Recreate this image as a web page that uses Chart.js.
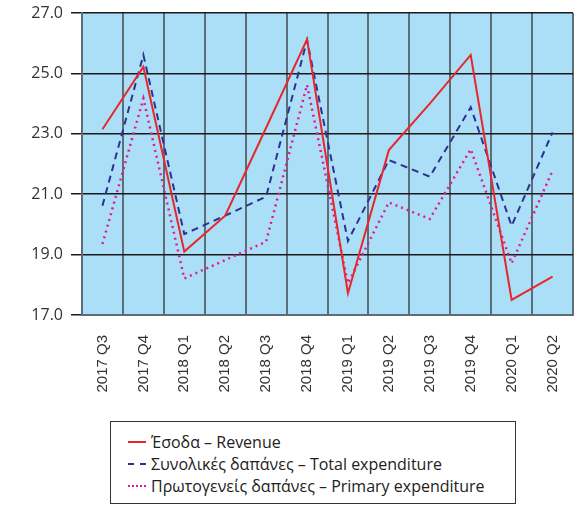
<!DOCTYPE html>
<html>
<head>
<meta charset="utf-8">
<script src="https://cdn.jsdelivr.net/npm/chart.js@4/dist/chart.umd.min.js"></script>
<style>
  body {
    margin: 0;
    background: #ffffff;
    font-family: 'Open Sans', sans-serif;
  }
  .chart-wrapper {
    position: relative;
    width: 582px;
    height: 420px;
  }
  .legend {
    position: absolute;
    left: 110px;
    top: 421px;
    width: 406px;
    height: 83px;
    box-sizing: border-box;
    border: 1px solid #333;
    padding-top: 9px;
    font-size: 16px;
    color: #222;
  }
  .legend__row {
    display: flex;
    align-items: center;
    height: 22px;
    padding-left: 17px;
  }
  .legend__line {
    width: 18px;
    margin-right: 5px;
    border-top-width: 2px;
  }
</style>
</head>
<body>
<div class="chart-wrapper">
  <canvas id="chart" width="582" height="420"></canvas>
</div>
<div class="legend" id="legend"></div>
<script>
const quarters = [
  '2017 Q3', '2017 Q4', '2018 Q1', '2018 Q2', '2018 Q3', '2018 Q4',
  '2019 Q1', '2019 Q2', '2019 Q3', '2019 Q4', '2020 Q1', '2020 Q2',
];
const revenue = [23.15, 25.22, 19.1, 20.29, 23.2, 26.13, 17.72, 22.46, 24.0, 25.61, 17.5, 18.27];
const totalExpenditure = [20.62, 25.61, 19.68, 20.29, 20.92, 26.1, 19.45, 22.13, 21.58, 23.88, 19.95, 23.05];
const primaryExpenditure = [19.35, 24.17, 18.21, 18.82, 19.43, 24.62, 18.05, 20.73, 20.18, 22.49, 18.71, 21.78];
const yTicks = [17, 19, 21, 23, 25, 27];

const seriesLabels = [
  'Έσοδα – Revenue',
  'Συνολικές δαπάνες – Total expenditure',
  'Πρωτογενείς δαπάνες – Primary expenditure',
];

const plotBackground = {
  id: 'plotBackground',
  beforeDraw(chart) {
    const { ctx, chartArea } = chart;
    ctx.save();
    ctx.fillStyle = '#abdff8';
    ctx.fillRect(chartArea.left, chartArea.top, chartArea.width, chartArea.height);
    ctx.restore();
  },
};

function createChart() {
  const canvas = document.getElementById('chart');

  const data = {
    labels: quarters,
    datasets: [
      {
        label: seriesLabels[0],
        data: revenue,
        borderColor: '#e8262c',
        borderWidth: 2,
        pointRadius: 0,
        tension: 0,
      },
      {
        label: seriesLabels[1],
        data: totalExpenditure,
        borderColor: '#2e3192',
        borderWidth: 2,
        borderDash: [7, 5],
        pointRadius: 0,
        tension: 0,
      },
      {
        label: seriesLabels[2],
        data: primaryExpenditure,
        borderColor: '#e6198c',
        borderWidth: 2.5,
        borderDash: [2, 4],
        pointRadius: 0,
        tension: 0,
      },
    ],
  };

  const config = {
    type: 'line',
    data: data,
    plugins: [plotBackground],
    options: {
      responsive: false,
      animation: false,
      layout: {
        padding: { top: 13, right: 9, bottom: 0, left: 0 },
      },
      plugins: {
        legend: { display: false },
        tooltip: { enabled: false },
      },
      scales: {
        x: {
          offset: true,
          grid: {
            offset: true,
            color: '#5c6e78',
            lineWidth: 2,
            drawTicks: false,
          },
          border: { color: '#5c6e78', width: 2 },
          ticks: {
            minRotation: 90,
            maxRotation: 90,
            padding: 20,
            color: '#333333',
            font: { family: "'Liberation Sans', Arial, sans-serif", size: 15 },
          },
          afterFit(scale) {
            scale.height = 105;
            scale.paddingLeft = 0;
            scale.paddingRight = 0;
          },
        },
        y: {
          min: 17,
          max: 27,
          afterBuildTicks(scale) {
            scale.ticks = yTicks.map((v) => ({ value: v }));
          },
          grid: {
            color: '#1a1a1a',
            lineWidth: 1.5,
            tickLength: 11,
          },
          border: { color: '#5c6e78', width: 2 },
          ticks: {
            padding: 8,
            color: '#333333',
            font: { family: "'Open Sans', sans-serif", size: 16 },
            callback: (value) => Number(value).toFixed(1),
          },
          afterFit(scale) {
            scale.width = 82;
            scale.paddingTop = 0;
            scale.paddingBottom = 0;
          },
        },
      },
    },
  };

  new Chart(canvas, config);
}

function createLegend() {
  const legend = document.getElementById('legend');
  const styles = [
    'solid #e8262c',
    'dashed #2e3192',
    'dotted #e6198c',
  ];
  seriesLabels.forEach((text, i) => {
    const row = document.createElement('div');
    row.className = 'legend__row';
    const line = document.createElement('span');
    line.className = 'legend__line';
    line.style.borderTop = '2px ' + styles[i];
    const label = document.createElement('span');
    label.textContent = text;
    row.append(line, label);
    legend.append(row);
  });
}

createChart();
createLegend();
</script>
</body>
</html>
